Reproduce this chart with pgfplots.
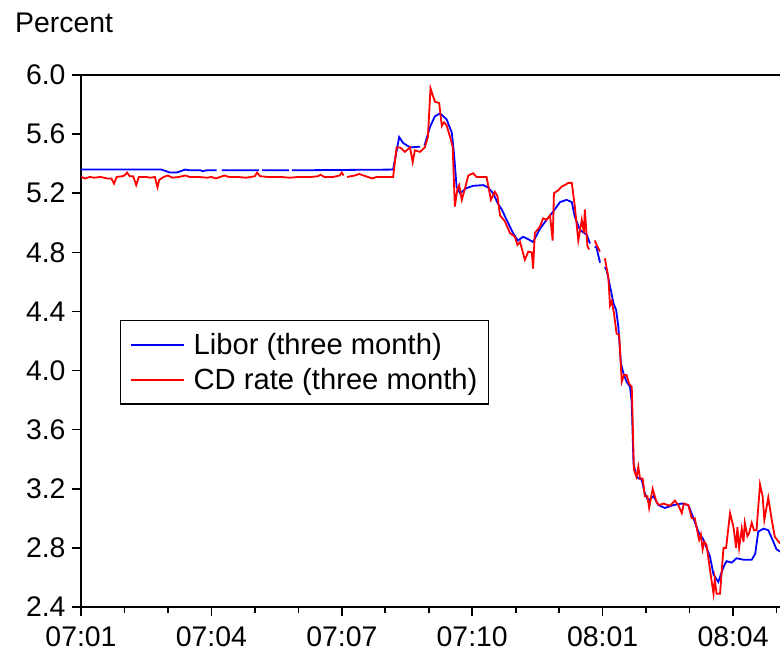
\documentclass[border=0pt]{standalone}
\usepackage{pgfplots}
\pgfplotsset{compat=1.18}
\usepackage{fontspec}
\setmainfont{Liberation Sans}
\begin{document}
\begin{tikzpicture}[font=\fontsize{28.5}{33}\selectfont]
\useasboundingbox (-81bp,-45bp) rectangle (699bp,607bp);
\begin{axis}[
  name=ax,
  at={(0,0)}, anchor=south west,
  scale only axis, width=699bp, height=532bp,
  xmin=0, xmax=16.08, ymin=2.4, ymax=6.0,
  axis x line*=box, axis y line*=left,
  x axis line style={-}, y axis line style={-},
  axis line style={line width=2bp, black},
  xtick pos=bottom, ytick pos=left,
  tick align=outside,
  major tick length=9bp, minor tick length=6bp,
  every tick/.style={black, line width=1.6bp},
  minor tick style={black, line width=1.6bp},
  xtick={0,3,6,9,12,15},
  xticklabels={07:01,07:04,07:07,07:10,08:01,08:04},
  minor xtick={1,2,4,5,7,8,10,11,13,14,16},
  ytick={2.4,2.8,3.2,3.6,4.0,4.4,4.8,5.2,5.6,6.0},
  yticklabel style={xshift=-3bp, /pgf/number format/.cd, fixed, fixed zerofill, precision=1},
  xticklabel style={yshift=-7bp},
  /pgf/number format/assume math mode=true,
  tick label style={font=\fontsize{28.5}{33}\selectfont},
  unbounded coords=jump,
  legend style={at={(0.056,0.5395)}, anchor=north west, draw=black, line width=1.3bp,
    font=\fontsize{29.3}{33}\selectfont, inner xsep=9bp, inner ysep=6.5bp,
    nodes={inner ysep=6.3bp}, cells={anchor=west}},
  legend image code/.code={\draw[#1] (0bp,0bp) -- (53bp,0bp); \path (60bp,0bp);},
]
\addplot[blue, line width=1.8bp] coordinates {
(0,5.36) (1.85,5.36) (1.95,5.35) (2.05,5.34) (2.2,5.34) (2.3,5.35) (2.4,5.36) (2.5,5.355) (2.75,5.355) (2.8,5.35) (2.9,5.355) (3.12,5.355) (3.13,nan) (3.24,5.355) (4.10,5.355) (4.11,nan) (4.16,5.355) (4.79,5.355) (4.80,nan) (4.85,5.355) (7.18,5.36)
(7.32,5.58) (7.41,5.54) (7.57,5.51) (7.80,5.515) (7.82,nan) (7.88,5.53) (7.91,5.53) (8.03,5.65) (8.14,5.72) (8.26,5.74) (8.41,5.70) (8.53,5.61) (8.58,5.47) (8.64,5.245) (8.72,5.20) (8.87,5.235) (9.02,5.25) (9.25,5.255) (9.36,5.24) (9.48,5.20) (9.59,5.13) (9.68,5.09) (9.79,5.02) (9.94,4.93) (10.05,4.88) (10.17,4.905) (10.28,4.89) (10.40,4.87) (10.56,4.96) (10.71,5.02) (10.86,5.075) (11.02,5.14) (11.17,5.155) (11.29,5.14) (11.36,5.04) (11.48,4.95) (11.63,4.92) (11.71,4.86) (11.72,nan) (11.82,4.84) (11.86,4.83) (11.94,4.73) (11.95,nan) (12.05,4.70) (12.09,4.68) (12.17,4.57) (12.25,4.455) (12.31,4.41) (12.36,4.30) (12.42,4.05) (12.48,3.98) (12.55,3.925) (12.63,3.89) (12.67,3.78) (12.71,3.37) (12.78,3.28) (12.90,3.26) (12.97,3.17) (13.05,3.12) (13.17,3.15) (13.28,3.09) (13.43,3.07) (13.63,3.09) (13.82,3.10) (13.97,3.09) (14.09,3.00) (14.20,2.91) (14.32,2.855) (14.47,2.74) (14.55,2.62) (14.66,2.57) (14.78,2.67) (14.85,2.71) (14.97,2.70) (15.08,2.73) (15.24,2.72) (15.43,2.72) (15.51,2.76) (15.58,2.91) (15.70,2.93) (15.81,2.92) (15.93,2.84) (16.00,2.79) (16.08,2.775)
};
\addlegendentry{Libor (three month)}
\addplot[red, line width=1.8bp] coordinates {
(0,5.31) (0.1,5.30) (0.2,5.31) (0.3,5.305) (0.45,5.31) (0.6,5.30) (0.7,5.30) (0.76,5.265) (0.82,5.31) (0.95,5.315) (1.0,5.32) (1.06,5.34) (1.12,5.315) (1.2,5.315) (1.27,5.255) (1.33,5.31) (1.5,5.31) (1.6,5.305) (1.7,5.31) (1.76,5.24) (1.8,5.29) (1.9,5.31) (2.0,5.32) (2.1,5.305) (2.25,5.31) (2.4,5.32) (2.5,5.31) (2.7,5.31) (2.9,5.305) (3.0,5.31) (3.1,5.30) (3.2,5.31) (3.3,5.32) (3.4,5.31) (3.6,5.31) (3.8,5.305) (4.0,5.315) (4.05,5.34) (4.12,5.315) (4.3,5.31) (4.6,5.31) (4.8,5.305) (5.0,5.31) (5.3,5.31) (5.45,5.315) (5.51,5.325) (5.6,5.31) (5.8,5.31) (5.95,5.32) (6.0,5.34) (6.04,5.32) (6.05,nan) (6.12,5.31) (6.3,5.32) (6.4,5.33) (6.5,5.32) (6.6,5.31) (6.7,5.30) (6.8,5.31) (7.18,5.31)
(7.26,5.51) (7.34,5.51) (7.45,5.48) (7.57,5.51) (7.63,5.41) (7.68,5.49) (7.80,5.48) (7.91,5.51) (7.98,5.58) (8.04,5.91) (8.14,5.82) (8.24,5.81) (8.30,5.655) (8.35,5.68) (8.41,5.66) (8.49,5.58) (8.55,5.515) (8.60,5.11) (8.66,5.23) (8.70,5.255) (8.76,5.155) (8.83,5.23) (8.91,5.32) (9.02,5.335) (9.10,5.31) (9.33,5.31) (9.43,5.155) (9.52,5.21) (9.58,5.18) (9.64,5.05) (9.75,5.01) (9.87,4.93) (9.98,4.905) (10.04,4.85) (10.10,4.87) (10.21,4.75) (10.29,4.805) (10.37,4.80) (10.40,4.69) (10.44,4.93) (10.56,4.975) (10.63,5.03) (10.71,5.02) (10.79,5.05) (10.85,4.88) (10.88,5.20) (10.98,5.22) (11.06,5.245) (11.13,5.255) (11.21,5.27) (11.29,5.27) (11.36,5.11) (11.44,4.88) (11.52,5.02) (11.57,4.93) (11.59,5.09) (11.65,4.84) (11.69,4.82) (11.70,nan) (11.82,4.88) (11.86,4.85) (11.94,4.805) (11.95,nan) (12.05,4.76) (12.13,4.635) (12.17,4.44) (12.21,4.47) (12.26,4.39) (12.32,4.25) (12.38,4.24) (12.44,3.925) (12.49,3.97) (12.55,3.97) (12.61,3.91) (12.67,3.89) (12.72,3.33) (12.78,3.28) (12.82,3.35) (12.86,3.27) (12.92,3.27) (12.97,3.15) (13.03,3.15) (13.07,3.07) (13.15,3.20) (13.24,3.11) (13.30,3.09) (13.40,3.10) (13.55,3.085) (13.66,3.12) (13.74,3.09) (13.82,3.035) (13.87,3.10) (13.97,3.09) (14.05,3.00) (14.12,3.00) (14.18,2.91) (14.22,2.855) (14.26,2.89) (14.30,2.79) (14.34,2.84) (14.39,2.82) (14.47,2.65) (14.51,2.57) (14.55,2.49) (14.58,2.59) (14.62,2.49) (14.70,2.49) (14.78,2.80) (14.84,2.80) (14.93,3.035) (15.01,2.94) (15.07,2.80) (15.10,2.94) (15.14,2.80) (15.20,2.93) (15.24,2.84) (15.27,2.97) (15.33,2.88) (15.37,2.90) (15.43,2.97) (15.48,2.92) (15.54,2.92) (15.62,3.23) (15.68,3.15) (15.72,2.99) (15.81,3.14) (15.89,2.99) (15.96,2.875) (16.08,2.83)
};
\addlegendentry{CD rate (three month)}
\end{axis}
\node[anchor=base west, inner sep=0pt] at ([xshift=-66bp, yshift=42bp]ax.north west) {Percent};
\end{tikzpicture}
\end{document}
